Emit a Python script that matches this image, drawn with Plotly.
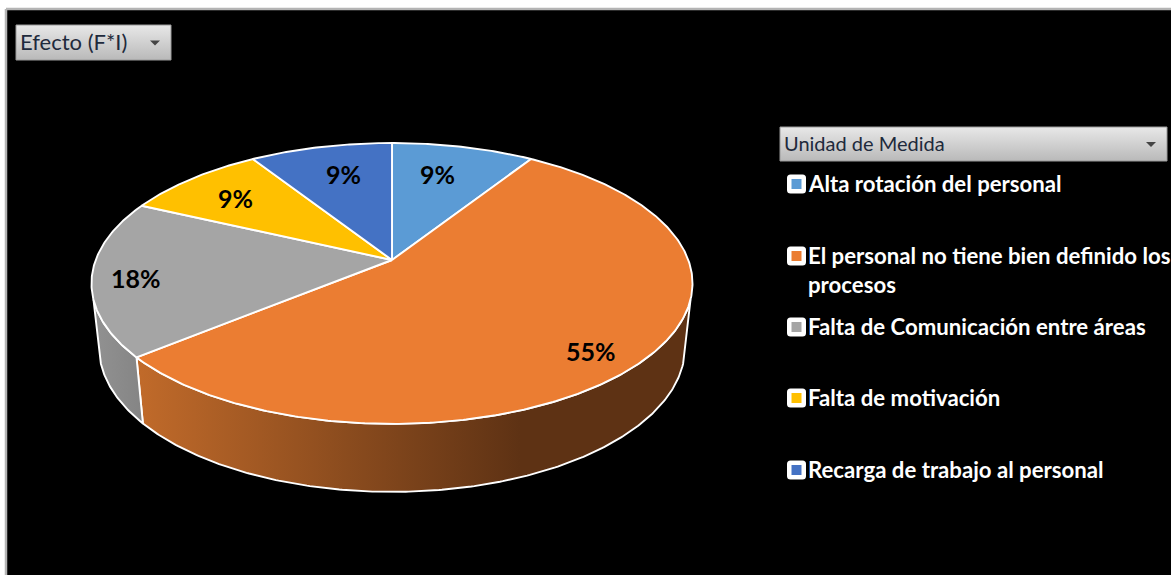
import math
import textwrap
import plotly.graph_objects as go

# Share of effect (F*I) per cause, in percent
categories = [
    "Alta rotación del personal",
    "El personal no tiene bien definido los procesos",
    "Falta de Comunicación entre áreas",
    "Falta de motivación",
    "Recarga de trabajo al personal",
]
values = [9, 55, 18, 9, 9]
slice_colors = ["#5B9BD5", "#EB7D32", "#A5A5A5", "#FFC000", "#4472C4"]
filter_title = "Efecto (F*I)"
legend_title = "Unidad de Medida"

# Placement of each percentage label: fraction of the radius, and degrees off the bisector
label_radius = [0.725, 0.85, 0.855, 0.755, 0.73]
label_turn = [-2.6, 3.2, -1.5, -0.8, 1.8]

W, H = 1171, 575
FONT = "Lato"

# Perspective projection of the unit disc onto the canvas
CX, APEX_Y = 392.0, 260.0
K, A, C = -0.167, 93.1, 296.3
BOTTOM_SCALE_X, BOTTOM_SCALE_Y, BOTTOM_SHIFT_Y = 0.975, 1.03, 55.3
WALL_START, WALL_END = 106.0, 254.0
EDGE_WIDTH = 1.9


def project(theta, r=1.0):
    rad = math.radians(theta)
    u, v = r * math.sin(rad), -r * math.cos(rad)
    w = 1 + K * v
    return CX + C * u / w, (A * v + APEX_Y) / w


def project_bottom(theta):
    x, y = project(theta)
    return CX + (x - CX) * BOTTOM_SCALE_X, y * BOTTOM_SCALE_Y + BOTTOM_SHIFT_Y


def arc(fn, a0, a1):
    n = max(2, int(abs(a1 - a0) * 2))
    pts = [fn(a0 + (a1 - a0) * i / n) for i in range(n + 1)]
    return [p[0] for p in pts], [p[1] for p in pts]


total = sum(values)
edges = [0.0]
for val in values:
    edges.append(edges[-1] + 360.0 * val / total)

fig = go.Figure()


def polygon(xs, ys, fill=None, gradient=None, line="#FFFFFF", width=EDGE_WIDTH):
    kw = dict(fillgradient=gradient) if gradient else dict(fillcolor=fill)
    fig.add_trace(go.Scatter(
        x=xs, y=ys, mode="lines", fill="toself",
        line=dict(color=line, width=width), hoverinfo="skip", showlegend=False, **kw,
    ))


# Page frame and black panel
polygon([6, W + 5, W + 5, 6, 6], [9, 9, H + 5, H + 5, 9], fill="#000000", line="#B4B4B4", width=2.5)

# Side walls of the pie: only the orange and grey slices face the viewer
orange_start, orange_end = max(edges[1], WALL_START), edges[2]
tx, ty = arc(project, orange_start, orange_end)
bx, by = arc(project_bottom, orange_end, orange_start)
polygon(tx + bx + tx[:1], ty + by + ty[:1], gradient=dict(
    type="horizontal", start=140, stop=520,
    colorscale=[[0, "#C06A2A"], [1, "#5E3214"]],
))
tx, ty = arc(project, edges[2], WALL_END)
bx, by = arc(project_bottom, WALL_END, edges[2])
polygon(tx + bx + tx[:1], ty + by + ty[:1], gradient=dict(
    type="horizontal", start=95, stop=145,
    colorscale=[[0, "#919191"], [1, "#848484"]],
))

# Top face of every slice
for i, color in enumerate(slice_colors):
    ax, ay = arc(project, edges[i], edges[i + 1])
    polygon([CX] + ax + [CX], [APEX_Y] + ay + [APEX_Y], fill=color)

annotations = []
shapes = []

# Percentage labels placed near each slice's bisector
for i, val in enumerate(values):
    lx, ly = project((edges[i] + edges[i + 1]) / 2 + label_turn[i], label_radius[i])
    annotations.append(dict(
        x=lx, y=ly, text=f"{val}%", showarrow=False, xanchor="center", yanchor="middle",
        font=dict(family=FONT, size=25, color="#000000", weight="bold"),
    ))


def button(x0, x1, y0, y1, label, size):
    grad = dict(type="vertical", start=y0, stop=y1,
                colorscale=[[0, "#E8E8E8"], [1, "#B9B9B9"]])
    polygon([x0, x1, x1, x0, x0], [y0, y0, y1, y1, y0], gradient=grad, line="#9A9A9A", width=1)
    annotations.append(dict(
        x=x0 + 2, y=(y0 + y1) / 2 - 1, text=label, showarrow=False,
        xanchor="left", yanchor="middle",
        font=dict(family=FONT, size=size, color="#1E2A3C"),
    ))
    ax = x1 - 16
    ay = (y0 + y1) / 2
    shapes.append(dict(
        type="path", path=f"M{ax-5},{ay-2} L{ax+5},{ay-2} L{ax},{ay+3} Z",
        fillcolor="#444444", line=dict(width=0), xref="x", yref="y",
    ))


button(16, 171, 25, 60, filter_title, 22)
button(780, 1167, 127, 161, legend_title, 20)

# Legend entries: rounded white swatch with a coloured core
legend_rows = [184, 256, 327, 398, 470]
for name, color, row in zip(categories, slice_colors, legend_rows):
    s = 9.5
    cx = 796.5
    x0, x1, y0, y1 = cx - s, cx + s, row - s, row + s
    rr = 3.5
    shapes.append(dict(
        type="path",
        path=(f"M{x0+rr},{y0} L{x1-rr},{y0} Q{x1},{y0} {x1},{y0+rr} L{x1},{y1-rr} "
              f"Q{x1},{y1} {x1-rr},{y1} L{x0+rr},{y1} Q{x0},{y1} {x0},{y1-rr} "
              f"L{x0},{y0+rr} Q{x0},{y0} {x0+rr},{y0} Z"),
        fillcolor="#FFFFFF", line=dict(width=0), xref="x", yref="y",
    ))
    shapes.append(dict(
        type="rect", x0=cx - 5, x1=cx + 5, y0=row - 5, y1=row + 5,
        fillcolor=color, line=dict(width=0), xref="x", yref="y",
    ))
    for j, text in enumerate(textwrap.wrap(name, 38)):
        annotations.append(dict(
            x=806, y=row + 29 * j - 1, text=text, showarrow=False,
            xanchor="left", yanchor="middle",
            font=dict(family=FONT, size=22.2, color="#FFFFFF", weight="bold"),
        ))

fig.update_layout(
    width=W, height=H,
    margin=dict(l=0, r=0, t=0, b=0),
    paper_bgcolor="#FFFFFF", plot_bgcolor="#FFFFFF",
    xaxis=dict(range=[0, W], visible=False, fixedrange=True),
    yaxis=dict(range=[H, 0], visible=False, fixedrange=True),
    annotations=annotations, shapes=shapes, showlegend=False,
)

fig.write_html("out.html", config=dict(displayModeBar=False))
